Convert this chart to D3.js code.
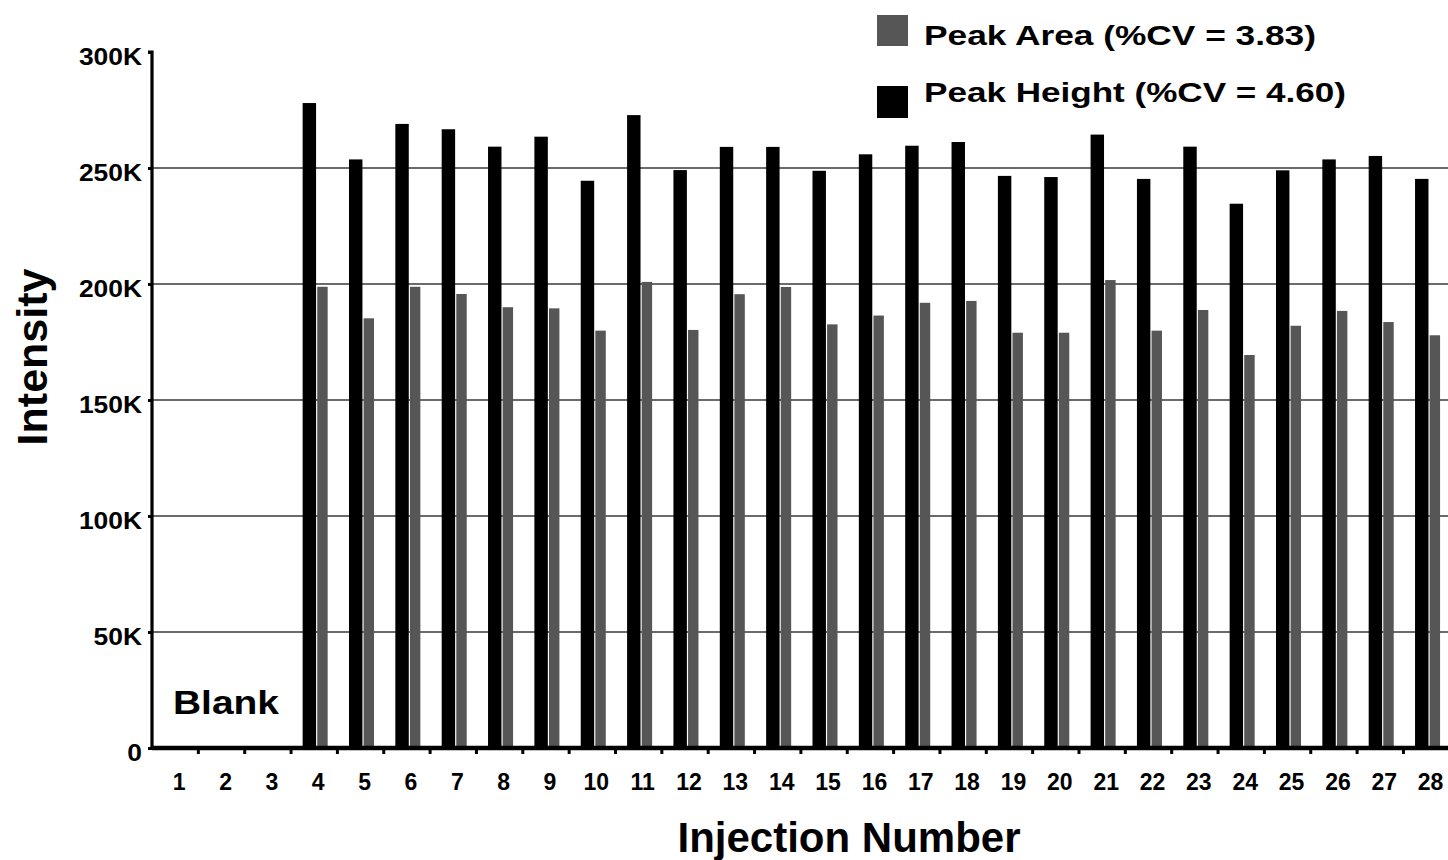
<!DOCTYPE html>
<html>
<head>
<meta charset="utf-8">
<script src="https://cdn.jsdelivr.net/npm/d3@7"></script>
<style>
  html, body { margin: 0; padding: 0; background: #fff; }
  svg { display: block; font-family: "Liberation Sans", Arial, Helvetica, sans-serif; }
</style>
</head>
<body>
<svg id="chart" width="1448" height="860"></svg>
<script>
// Injection numbers 1..28 (1–3 are blank injections with no signal)
const injections = d3.range(1, 29);
// Peak height per injection (counts); null = blank
const peakHeight = [null, null, null,
  278000, 253700, 269000, 266700, 259200, 263500, 244500, 272800, 249100, 259100,
  259100, 248800, 255900, 259600, 261200, 246600, 246100, 264400, 245300, 259200,
  234600, 249000, 253700, 255200, 245300];
// Peak area per injection (scaled counts); null = blank
const peakArea = [null, null, null,
  198800, 185200, 198800, 195700, 190000, 189500, 179900, 200900, 180200, 195600,
  198700, 182600, 186400, 191900, 192700, 179000, 179000, 201700, 179900, 188800,
  169400, 182000, 188400, 183600, 177900];
const yTickValues = [0, 50000, 100000, 150000, 200000, 250000, 300000];
const yTickLabels = ["0", "50K", "100K", "150K", "200K", "250K", "300K"];
const legendItems = [
  { label: "Peak Area (%CV = 3.83)", color: "#565656" },
  { label: "Peak Height (%CV = 4.60)", color: "#000000" }
];

const svg = d3.select("#chart");
const plotLeft = 152, plotBottom = 748, plotTop = 52;
const bandW = 46.35;

const x = d3.scaleBand().domain(injections).range([plotLeft, plotLeft + bandW * injections.length]).padding(0);
const y = d3.scaleLinear().domain([0, 300000]).range([plotBottom, plotTop]);

// Horizontal gridlines
svg.append("g")
  .selectAll("line")
  .data(yTickValues.filter(v => v > 0 && v < 300000))
  .join("line")
  .attr("x1", plotLeft).attr("x2", 1448)
  .attr("y1", d => y(d)).attr("y2", d => y(d))
  .attr("stroke", "#3a3a3a").attr("stroke-width", 1.6);

const bw = x.bandwidth();
const rows = injections.map((n, i) => ({ n, h: peakHeight[i], a: peakArea[i] }))
  .filter(d => d.h != null);

// Peak height bars (black)
svg.append("g")
  .selectAll("rect")
  .data(rows)
  .join("rect")
  .attr("x", d => x(d.n) + bw * 0.25)
  .attr("width", bw * 0.29)
  .attr("y", d => y(d.h))
  .attr("height", d => plotBottom - y(d.h))
  .attr("fill", "#000");

// Peak area bars (gray)
svg.append("g")
  .selectAll("rect")
  .data(rows)
  .join("rect")
  .attr("x", d => x(d.n) + bw * 0.565)
  .attr("width", bw * 0.225)
  .attr("y", d => y(d.a))
  .attr("height", d => plotBottom - y(d.a))
  .attr("fill", "#565656");

// Y axis
const yAxis = svg.append("g")
  .attr("transform", `translate(${plotLeft},0)`)
  .call(d3.axisLeft(y).tickValues(yTickValues)
    .tickFormat((d, i) => yTickLabels[i]).tickSize(4).tickPadding(8));
yAxis.select(".domain").attr("stroke-width", 3.2).attr("d", `M-4,${plotTop}H0V${plotBottom}`);
yAxis.selectAll(".tick line").attr("stroke-width", 3);
yAxis.selectAll(".tick text")
  .attr("x", 0).attr("dy", null).attr("y", 0)
  .attr("transform", "translate(-10,12) scale(1.1,1)")
  .attr("font-size", 24).attr("font-weight", "bold").attr("fill", "#000");

// X axis
const xAxis = svg.append("g")
  .attr("transform", `translate(0,${plotBottom})`)
  .call(d3.axisBottom(x).tickSize(0).tickPadding(0));
xAxis.select(".domain").attr("stroke-width", 4.5).attr("d", `M${plotLeft},0H1448`);
xAxis.selectAll(".tick text")
  .attr("y", 42).attr("dy", null).attr("dx", 4)
  .attr("font-size", 23).attr("font-weight", "bold").attr("fill", "#000");
// Small separator ticks between injections
svg.append("g")
  .selectAll("line")
  .data(injections.slice(1))
  .join("line")
  .attr("x1", d => x(d)).attr("x2", d => x(d))
  .attr("y1", plotBottom).attr("y2", plotBottom + 6)
  .attr("stroke", "#000").attr("stroke-width", 3);

// Axis titles
svg.append("text")
  .attr("x", 849).attr("y", 852)
  .attr("text-anchor", "middle")
  .attr("font-size", 42).attr("font-weight", "bold")
  .text("Injection Number");
svg.append("text")
  .attr("transform", "translate(47,357) rotate(-90)")
  .attr("text-anchor", "middle")
  .attr("font-size", 43).attr("font-weight", "bold")
  .text("Intensity");

// Blank annotation
svg.append("text")
  .attr("x", 173).attr("y", 714)
  .attr("font-size", 33).attr("font-weight", "bold")
  .attr("textLength", 106).attr("lengthAdjust", "spacingAndGlyphs")
  .text("Blank");

// Legend
const legend = svg.append("g");
const legendRows = [
  { sq: [877, 15, 31, 31], ty: 45, len: 392 },
  { sq: [877, 86, 31, 32], ty: 102, len: 422 }
];
legendItems.forEach((item, i) => {
  const r = legendRows[i];
  legend.append("rect")
    .attr("x", r.sq[0]).attr("y", r.sq[1]).attr("width", r.sq[2]).attr("height", r.sq[3])
    .attr("fill", item.color);
  legend.append("text")
    .attr("x", 924).attr("y", r.ty)
    .attr("font-size", 28).attr("font-weight", "bold")
    .attr("textLength", r.len).attr("lengthAdjust", "spacingAndGlyphs")
    .text(item.label);
});
</script>
</body>
</html>
